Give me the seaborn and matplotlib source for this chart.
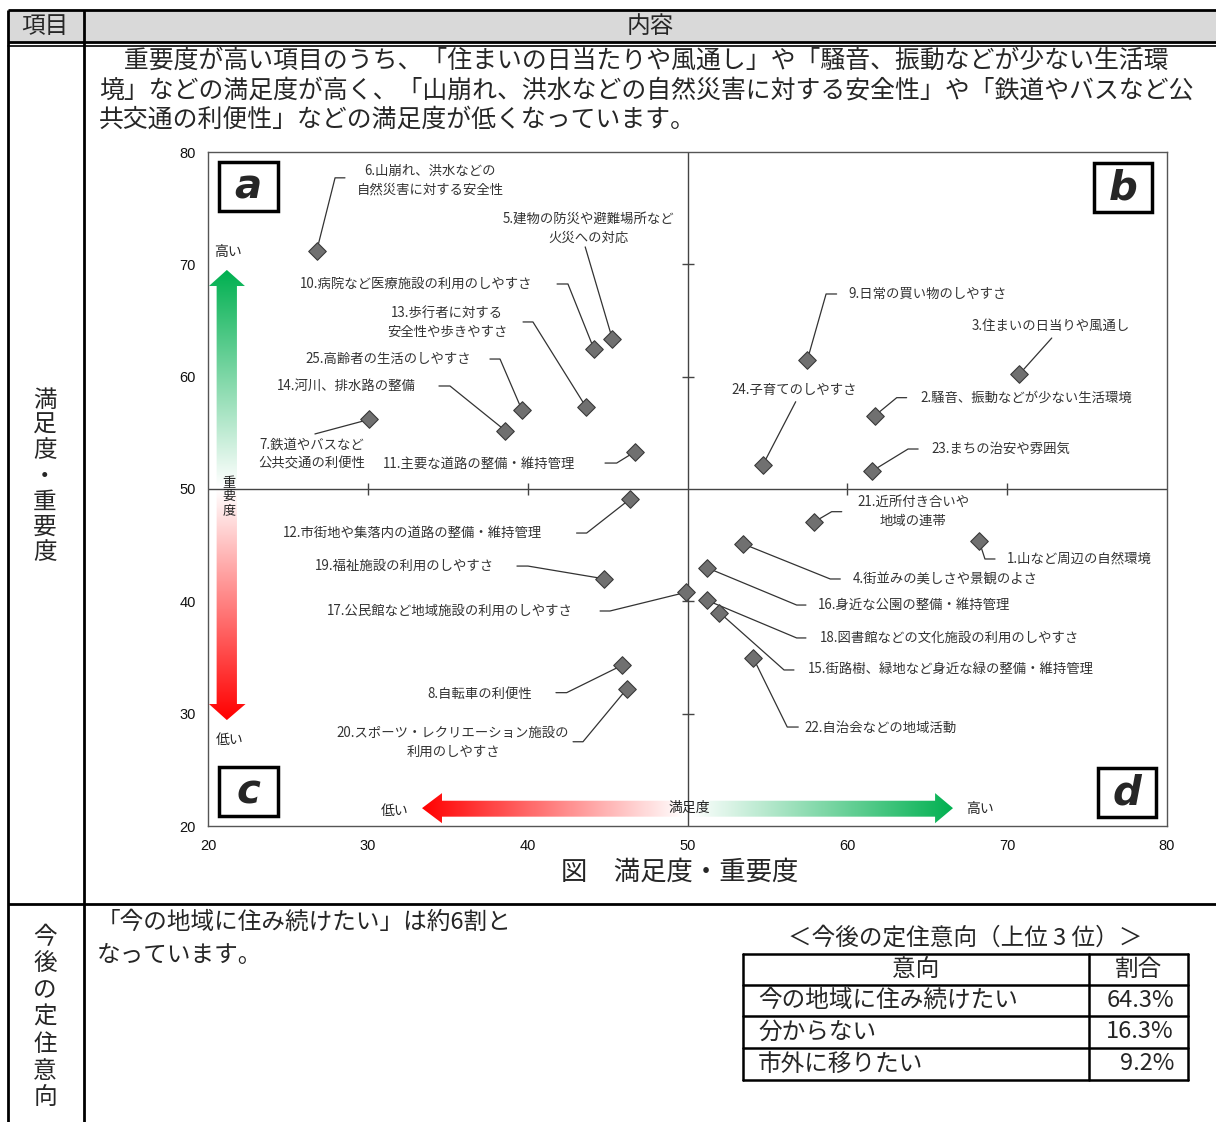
import numpy as np
import pandas as pd
import matplotlib
matplotlib.use("Agg")
import matplotlib.pyplot as plt
from matplotlib.patches import Polygon, Rectangle
from matplotlib.colors import LinearSegmentedColormap
import seaborn as sns

# --- data: satisfaction (x) / importance (y) per item ---
item_no = list(range(1, 26))
item_name = [
    "山など周辺の自然環境",
    "騒音、振動などが少ない生活環境",
    "住まいの日当りや風通し",
    "街並みの美しさや景観のよさ",
    "建物の防災や避難場所など\n火災への対応",
    "山崩れ、洪水などの\n自然災害に対する安全性",
    "鉄道やバスなど\n公共交通の利便性",
    "自転車の利便性",
    "日常の買い物のしやすさ",
    "病院など医療施設の利用のしやすさ",
    "主要な道路の整備・維持管理",
    "市街地や集落内の道路の整備・維持管理",
    "歩行者に対する\n安全性や歩きやすさ",
    "河川、排水路の整備",
    "街路樹、緑地など身近な緑の整備・維持管理",
    "身近な公園の整備・維持管理",
    "公民館など地域施設の利用のしやすさ",
    "図書館などの文化施設の利用のしやすさ",
    "福祉施設の利用のしやすさ",
    "スポーツ・レクリエーション施設の\n利用のしやすさ",
    "近所付き合いや\n地域の連帯",
    "自治会などの地域活動",
    "まちの治安や雰囲気",
    "子育てのしやすさ",
    "高齢者の生活のしやすさ",
]
satisfaction = [68.25, 61.7, 70.75, 53.5, 45.3, 26.8, 30.1, 45.9, 57.5, 44.15,
                46.7, 46.4, 43.65, 38.6, 52.0, 51.2, 49.9, 51.2, 44.8, 46.2,
                57.9, 54.1, 61.55, 54.7, 39.65]
importance = [45.35, 56.5, 60.2, 45.1, 63.35, 71.2, 56.2, 34.3, 61.5, 62.45,
              53.3, 49.1, 57.3, 55.2, 39.0, 43.0, 40.8, 40.1, 42.0, 32.2,
              47.05, 35.0, 51.6, 52.1, 57.0]

ticks = [20, 30, 40, 50, 60, 70, 80]

# settlement intention table
intent = ["今の地域に住み続けたい", "分からない", "市外に移りたい"]
intent_share = [64.3, 16.3, 9.2]

# label layout: text anchor, alignment, leader elbow (or None), leader end
label_pos = [
    (69.99, 43.77, "left", (68.61, 43.77), (69.24, 43.77)),
    (64.55, 58.10, "left", (63.09, 58.13), (63.71, 58.13)),
    (67.80, 64.51, "left", None, (72.79, 63.44)),
    (60.36, 41.99, "left", (58.93, 41.99), (59.56, 41.99)),
    (43.78, 73.23, "center", None, (43.60, 71.55)),
    (33.90, 77.50, "center", (27.95, 77.70), (28.57, 77.70)),
    (26.51, 53.12, "center", None, (26.69, 54.90)),
    (33.70, 31.75, "left", (42.44, 31.87), (41.77, 31.87)),
    (60.04, 67.36, "left", (58.67, 67.36), (59.33, 67.36)),
    (25.76, 68.25, "left", (42.52, 68.25), (41.84, 68.25)),
    (30.95, 52.22, "left", (45.57, 52.31), (44.84, 52.31)),
    (24.69, 46.08, "left", (43.69, 46.08), (43.06, 46.08)),
    (34.95, 64.82, "center", (40.33, 64.87), (39.71, 64.87)),
    (24.32, 59.17, "left", (35.14, 59.17), (34.45, 59.17)),
    (57.54, 33.98, "left", (56.04, 33.89), (56.66, 33.89)),
    (58.17, 39.67, "left", (56.83, 39.67), (57.41, 39.67)),
    (27.45, 39.14, "left", (45.15, 39.14), (44.53, 39.14)),
    (58.29, 36.74, "left", (56.83, 36.74), (57.41, 36.74)),
    (26.69, 43.14, "left", (40.02, 43.14), (39.33, 43.14)),
    (35.33, 27.48, "center", (43.46, 27.50), (42.84, 27.50)),
    (64.11, 48.00, "center", (59.02, 47.98), (59.65, 47.98)),
    (57.29, 28.72, "left", (56.24, 28.81), (56.93, 28.81)),
    (65.23, 53.56, "left", (63.80, 53.56), (64.43, 53.56)),
    (52.72, 58.81, "left", None, (56.77, 57.77)),
    (26.07, 61.57, "left", (38.27, 61.57), (37.64, 61.57)),
]

df = pd.DataFrame({"no": item_no, "name": item_name,
                   "満足度": satisfaction, "重要度": importance})

sns.set_theme(style="white")
JP = ["Noto Sans CJK JP", "DejaVu Sans"]
plt.rcParams["font.family"] = JP

fig = plt.figure(figsize=(12.16, 11.22), dpi=100)

# background axes in pixel units for the surrounding table
bg = fig.add_axes([0, 0, 1, 1])
bg.set_xlim(0, 1216)
bg.set_ylim(1122, 0)
bg.axis("off")

bg.add_patch(Rectangle((8, 10), 1216 - 8, 32, facecolor="#d9d9d9", edgecolor="none"))
lk = dict(color="black", lw=2.0, solid_capstyle="butt")
bg.plot([8, 1216], [10, 10], **lk)
bg.plot([8, 1216], [42, 42], **lk)
bg.plot([8, 1216], [46, 46], color="black", lw=1.2)
bg.plot([8, 1216], [904, 904], **lk)
bg.plot([8, 8], [10, 1122], **lk)
bg.plot([84, 84], [10, 1122], **lk)

bg.text(45, 26, "項目", fontsize=17, ha="center", va="center")
bg.text(650, 26, "内容", fontsize=17, ha="center", va="center")

body = ["　重要度が高い項目のうち、「住まいの日当たりや風通し」や「騒音、振動などが少ない生活環",
        "境」などの満足度が高く、「山崩れ、洪水などの自然災害に対する安全性」や「鉄道やバスなど公",
        "共交通の利便性」などの満足度が低くなっています。"]
for i, line in enumerate(body):
    bg.text(99, 61 + i * 29.5, line, fontsize=17.9, ha="left", va="center")

for i, ch in enumerate("満足度・重要度"):
    bg.text(45, 400 + i * 25.5, ch, fontsize=17, ha="center", va="center")
for i, ch in enumerate("今後の定住意向"):
    bg.text(45, 937 + i * 26.8, ch, fontsize=17, ha="center", va="center")

bg.text(680, 872, "図　満足度・重要度", fontsize=19, ha="center", va="center")

bg.text(97, 922, "「今の地域に住み続けたい」は約6割と", fontsize=17, ha="left", va="center")
bg.text(97, 955, "なっています。", fontsize=17, ha="left", va="center")

bg.text(965, 938, "＜今後の定住意向（上位 3 位）＞", fontsize=17, ha="center", va="center")
tx0, tx1, tdiv = 743, 1188, 1089
rows_y = [954, 985, 1016, 1048, 1080]
for yy in rows_y:
    bg.plot([tx0, tx1], [yy, yy], color="black", lw=1.8)
bg.plot([tx0, tx0], [rows_y[0], rows_y[-1]], color="black", lw=1.8)
bg.plot([tx1, tx1], [rows_y[0], rows_y[-1]], color="black", lw=1.8)
bg.plot([tdiv, tdiv], [rows_y[0], rows_y[-1]], color="black", lw=1.8)
bg.text((tx0 + tdiv) / 2, (rows_y[0] + rows_y[1]) / 2, "意向", fontsize=17, ha="center", va="center")
bg.text((tdiv + tx1) / 2, (rows_y[0] + rows_y[1]) / 2, "割合", fontsize=17, ha="center", va="center")
for i, (name, share) in enumerate(zip(intent, intent_share)):
    yc = (rows_y[i + 1] + rows_y[i + 2]) / 2
    bg.text(758, yc, name, fontsize=17, ha="left", va="center")
    bg.text(1174, yc, f"{share:.1f}%", fontsize=17, ha="right", va="center")

# --- scatter chart ---
ax = fig.add_axes([208 / 1216, 1 - 826 / 1122, (1167 - 208) / 1216, (826 - 152) / 1122])


def grad_arrow(verts, extent, color, vertical, rev):
    poly = Polygon(verts, closed=True, facecolor="none", edgecolor="none")
    ax.add_patch(poly)
    g = np.linspace(0, 1, 256)
    if rev:
        g = g[::-1]
    arr = g.reshape(-1, 1) if vertical else g.reshape(1, -1)
    cmap = LinearSegmentedColormap.from_list("c", ["white", color])
    im = ax.imshow(arr, cmap=cmap, extent=extent, origin="lower", aspect="auto",
                   zorder=0.5, interpolation="bilinear")
    im.set_clip_path(poly)


green, red = "#00b050", "#ff0000"
grad_arrow([(20.54, 50.3), (21.81, 50.3), (21.81, 68.07), (22.31, 68.07), (21.18, 69.5),
            (20.06, 68.07), (20.54, 68.07)], [20.0, 22.4, 50.3, 69.5], green, True, False)
grad_arrow([(20.54, 49.9), (21.81, 49.9), (21.81, 30.86), (22.35, 30.86), (21.18, 29.43),
            (20.06, 30.86), (20.54, 30.86)], [20.0, 22.4, 29.4, 49.9], red, True, True)
grad_arrow([(49.7, 20.83), (49.7, 22.25), (34.64, 22.25), (34.64, 22.93), (33.39, 21.59),
            (34.64, 20.25), (34.64, 20.83)], [33.3, 49.7, 20.2, 23.0], red, False, True)
grad_arrow([(50.2, 20.83), (50.2, 22.25), (65.49, 22.25), (65.49, 22.93), (66.61, 21.59),
            (65.49, 20.25), (65.49, 20.83)], [50.2, 66.7, 20.2, 23.0], green, False, False)

# quadrant lines with cross ticks
ax.axhline(50, color="#444444", lw=1.0, zorder=1)
ax.axvline(50, color="#444444", lw=1.0, zorder=1)
inner = [t for t in ticks if t not in (20, 50, 80)]
ax.plot(inner, [50] * len(inner), ls="none", marker="|", ms=9, mew=1.0, color="#444444", zorder=1)
ax.plot([50] * len(inner), inner, ls="none", marker="_", ms=9, mew=1.0, color="#444444", zorder=1)

# leader lines and labels
for i, row in df.iterrows():
    tx, ty, ha, elbow, end = label_pos[i]
    px, py = row["満足度"], row["重要度"]
    xs = [px] + ([elbow[0]] if elbow else []) + [end[0]]
    ys = [py] + ([elbow[1]] if elbow else []) + [end[1]]
    ax.plot(xs, ys, color="#333333", lw=0.9, zorder=2)
    lines = row["name"].split("\n")
    txt = f"{row['no']}.{lines[0]}" + ("\n" + lines[1] if len(lines) > 1 else "")
    ax.text(tx, ty, txt, fontsize=9.6, ha=ha, va="center", color="#333333",
            linespacing=1.45, multialignment="center", zorder=3)

sns.scatterplot(data=df, x="満足度", y="重要度", marker="D", s=80, color="#707070",
                edgecolor="#3a3a3a", linewidth=0.8, ax=ax, zorder=4, legend=False)

# arrow captions
ax.text(21.25, 71.1, "高い", fontsize=10, ha="center", va="center", color="#222222")
ax.text(21.37, 27.65, "低い", fontsize=10, ha="center", va="center", color="#222222")
for ch, yy in zip("重要度", [50.45, 49.35, 48.1]):
    ax.text(21.3, yy, ch, fontsize=9.5, ha="center", va="center", color="#222222", zorder=3)
ax.text(31.7, 21.35, "低い", fontsize=10, ha="center", va="center", color="#222222")
ax.text(68.3, 21.5, "高い", fontsize=10, ha="center", va="center", color="#222222")
ax.text(50.1, 21.65, "満足度", fontsize=10, ha="center", va="center", color="#222222", zorder=3)

# quadrant letter boxes
boxes = {"a": (20.69, 74.75), "b": (75.43, 74.66), "c": (20.69, 20.89), "d": (75.68, 20.80)}
for letter, (bx, by) in boxes.items():
    ax.add_patch(Rectangle((bx, by), 3.66, 4.38, facecolor="white", edgecolor="black",
                           lw=2.5, zorder=3))
    ax.text(bx + 1.83, by + 2.1, letter, fontsize=29, fontweight="bold", style="italic",
            family="DejaVu Sans", ha="center", va="center", zorder=4)

ax.set_xlim(20, 80)
ax.set_ylim(20, 80)
ax.set_xticks(ticks)
ax.set_yticks(ticks)
ax.set_xlabel("")
ax.set_ylabel("")
ax.tick_params(length=0, labelsize=10.5, pad=9, colors="#111111")
for lab in ax.get_xticklabels() + ax.get_yticklabels():
    lab.set_family("Liberation Sans")
for sp in ax.spines.values():
    sp.set_color("#555555")
    sp.set_linewidth(1.0)

fig.savefig("out.png", dpi=100)
